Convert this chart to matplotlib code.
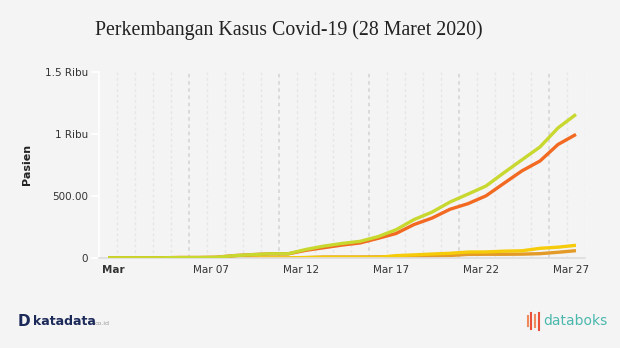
import matplotlib.pyplot as plt
import matplotlib.lines as mlines
import numpy as np

# days since start of the axis (label "Mar" sits on day 0)
days = list(range(27))
total = [2, 2, 2, 2, 4, 4, 6, 19, 27, 34, 34, 69, 96, 117, 134, 172, 227,
         309, 369, 450, 514, 579, 686, 790, 893, 1046, 1155]
deaths = [0, 0, 0, 0, 0, 0, 0, 0, 0, 1, 1, 4, 5, 5, 5, 5, 19,
          25, 32, 38, 48, 49, 55, 58, 78, 87, 102]
recovered = [0, 0, 0, 0, 0, 0, 0, 0, 0, 0, 0, 3, 8, 8, 8, 9, 11,
             15, 16, 20, 29, 30, 30, 31, 35, 46, 59]
active = [t - d - r for t, d, r in zip(total, deaths, recovered)]

xtick_days = [0, 6, 11, 16, 21, 26]
xtick_labels = ['Mar', 'Mar 07', 'Mar 12', 'Mar 17', 'Mar 22', 'Mar 27']
ytick_vals = [0, 500, 1000, 1500]
ytick_labels = ['0', '500.00', '1 Ribu', '1.5 Ribu']

bg = '#f4f4f4'
fig = plt.figure(figsize=(6.2, 3.48), dpi=100, facecolor=bg)
ax = fig.add_axes([0.1597, 0.2586, 0.9435 - 0.1597, 0.7945 - 0.2586])
ax.set_facecolor(bg)

# vertical dashed grid, every day between points, darker every 5
for k in range(1, 28):
    xg = -0.5 + k
    dark = k % 5 == 0
    ax.axvline(xg, color='#d8d8d8' if dark else '#e6e6e6',
               lw=1.3 if dark else 1.0, ls=(0, (2, 2)), zorder=0)

ax.plot(days, recovered, color='#e39a26', lw=2.4, solid_capstyle='butt', zorder=2)
ax.plot(days, deaths, color='#f5cb0a', lw=2.4, solid_capstyle='butt', zorder=2)
ax.plot(days, active, color='#f26a21', lw=2.4, solid_capstyle='butt', zorder=3)
ax.plot(days, total, color='#c8d82f', lw=2.4, solid_capstyle='butt', zorder=4)

ax.set_xlim(-0.5, 26.5)
ax.set_ylim(0, 1500)

for s in ['top', 'right']:
    ax.spines[s].set_visible(False)
ax.spines['left'].set_color('white')
ax.spines['left'].set_linewidth(1.2)
ax.spines['bottom'].set_color('#dddddd')
ax.spines['bottom'].set_linewidth(1.2)

ax.set_yticks(ytick_vals)
ax.set_yticklabels(ytick_labels)
ax.tick_params(axis='y', colors='white', labelcolor='#333333', labelsize=7.5,
               length=6, width=1.2, pad=2)

xpos = [d + 0.28 if d == 0 else d - 0.28 for d in xtick_days]
ax.set_xticks(xpos)
ax.set_xticklabels(xtick_labels)
ax.tick_params(axis='x', length=0, labelcolor='#333333', labelsize=7.5, pad=5)
ax.get_xticklabels()[0].set_fontweight('bold')

ax.set_ylabel('Pasien', fontsize=8, fontweight='bold', color='#222222', labelpad=9)

fig.text(0.153, 0.912, 'Perkembangan Kasus Covid-19 (28 Maret 2020)',
         fontsize=14.3, family='Liberation Serif', color='#222222', va='center')

# footer logos
fig.text(0.029, 0.077, 'D', fontsize=11, fontweight='bold', color='#1c2a5a',
         va='center')
fig.text(0.053, 0.077, 'katadata', fontsize=9, fontweight='bold',
         color='#1c2a5a', va='center')
fig.text(0.153, 0.071, 'co.id', fontsize=4.5, color='#999999', va='center')

for xx, hh, cc in [(0.851, 0.03, '#f08a5d'), (0.857, 0.045, '#e8503a'),
                   (0.863, 0.035, '#f08a5d'), (0.869, 0.05, '#e8503a')]:
    fig.add_artist(mlines.Line2D([xx, xx], [0.077 - hh / 2, 0.077 + hh / 2],
                                 color=cc, lw=1.5, transform=fig.transFigure))
fig.text(0.876, 0.079, 'databoks', fontsize=10, color='#4cb8ae', va='center')

fig.savefig('out.png', dpi=100, facecolor=bg)
